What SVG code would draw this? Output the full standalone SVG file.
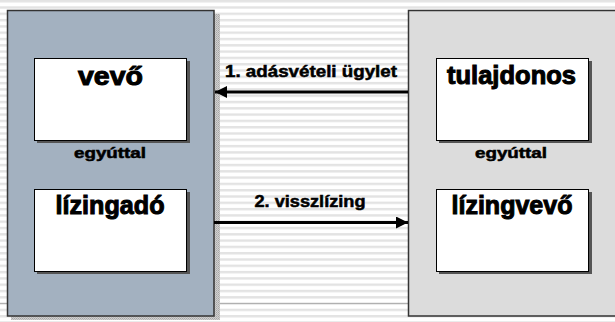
<svg xmlns="http://www.w3.org/2000/svg" width="615" height="322" viewBox="0 0 615 322">
<defs>
<pattern id="stripes" x="0" y="0" width="8" height="6.3" patternUnits="userSpaceOnUse">
<rect x="0" y="0" width="8" height="6.3" fill="#ffffff"/>
<rect x="0" y="0" width="8" height="2.4" fill="#e3e3e3"/>
</pattern>
<pattern id="dots" x="0" y="0" width="2" height="2" patternUnits="userSpaceOnUse">
<rect width="2" height="2" fill="#d0d0d0"/>
<rect width="1" height="1" fill="#a8a8a8"/>
<rect x="1" y="1" width="1" height="1" fill="#b8b8b8"/>
</pattern>
<marker id="ah" viewBox="0 0 10 10" refX="10" refY="5" markerWidth="4" markerHeight="4" orient="auto" markerUnits="strokeWidth">
<path d="M0,0 L10,5 L0,10 z" fill="#000"/>
</marker>
</defs>
<style>
.big{font-family:"Liberation Sans",Arial,sans-serif;font-weight:bold;font-size:25px;fill:#000;text-anchor:middle;stroke:#000;stroke-width:1}
.small{font-family:"Liberation Sans",Arial,sans-serif;font-weight:bold;font-size:14px;fill:#000;text-anchor:middle;stroke:#000;stroke-width:0.5}
.lbl{font-family:"Liberation Sans",Arial,sans-serif;font-weight:bold;font-size:16px;fill:#000;text-anchor:middle;stroke:#000;stroke-width:0.5}
.box{fill:#ffffff;stroke:#000;stroke-width:1}
.shadow{fill:#555}
.conn{stroke:#000;fill:none}
</style>
<rect x="0" y="0" width="615" height="322" fill="url(#stripes)"/>
<line x1="0" y1="303.5" x2="615" y2="303.5" stroke="#b0b0b0" stroke-width="1"/>

<g id="left-panel">
<rect x="214" y="14" width="6" height="306" fill="url(#dots)"/>
<rect x="11" y="316" width="209" height="4" fill="url(#dots)"/>
<rect x="7.5" y="10.5" width="206.5" height="305.5" fill="#a3b1c0" stroke="#333" stroke-width="1.5"/>
</g>
<g id="right-panel">
<rect x="408.5" y="10.5" width="210" height="305.5" fill="#dcdcdc" stroke="#333" stroke-width="1.5"/>
</g>

<g id="vevo">
<rect class="shadow" x="37" y="61" width="153" height="82"/>
<rect class="box" x="34.5" y="58.5" width="152" height="82"/>
<text class="big" x="110.5" y="85" textLength="65" lengthAdjust="spacingAndGlyphs">vevő</text>
</g>
<text class="small" x="110" y="158" textLength="72" lengthAdjust="spacingAndGlyphs">egyúttal</text>
<g id="lizingado">
<rect class="shadow" x="37" y="192" width="153" height="82"/>
<rect class="box" x="34.5" y="189.5" width="152" height="82"/>
<text class="big" x="110" y="214" textLength="109" lengthAdjust="spacingAndGlyphs">lízingadó</text>
</g>

<g id="tulajdonos">
<rect class="shadow" x="439" y="61" width="153" height="82"/>
<rect class="box" x="436.5" y="58.5" width="152" height="82"/>
<text class="big" x="511.5" y="84" textLength="129" lengthAdjust="spacingAndGlyphs">tulajdonos</text>
</g>
<text class="small" x="511" y="158" textLength="72" lengthAdjust="spacingAndGlyphs">egyúttal</text>
<g id="lizingvevo">
<rect class="shadow" x="439" y="192" width="153" height="82"/>
<rect class="box" x="436.5" y="189.5" width="152" height="82"/>
<text class="big" x="512" y="214" textLength="121" lengthAdjust="spacingAndGlyphs">lízingvevő</text>
</g>

<g id="connectors">
<line class="conn" x1="408" y1="92" x2="215" y2="92" stroke-width="3" marker-end="url(#ah)"/>
<text class="lbl" x="311" y="77" textLength="172" lengthAdjust="spacingAndGlyphs">1. adásvételi ügylet</text>
<line class="conn" x1="214" y1="222.5" x2="408" y2="222.5" stroke-width="3" marker-end="url(#ah)"/>
<text class="lbl" x="310" y="207" textLength="111" lengthAdjust="spacingAndGlyphs">2. visszlízing</text>
</g>
</svg>
